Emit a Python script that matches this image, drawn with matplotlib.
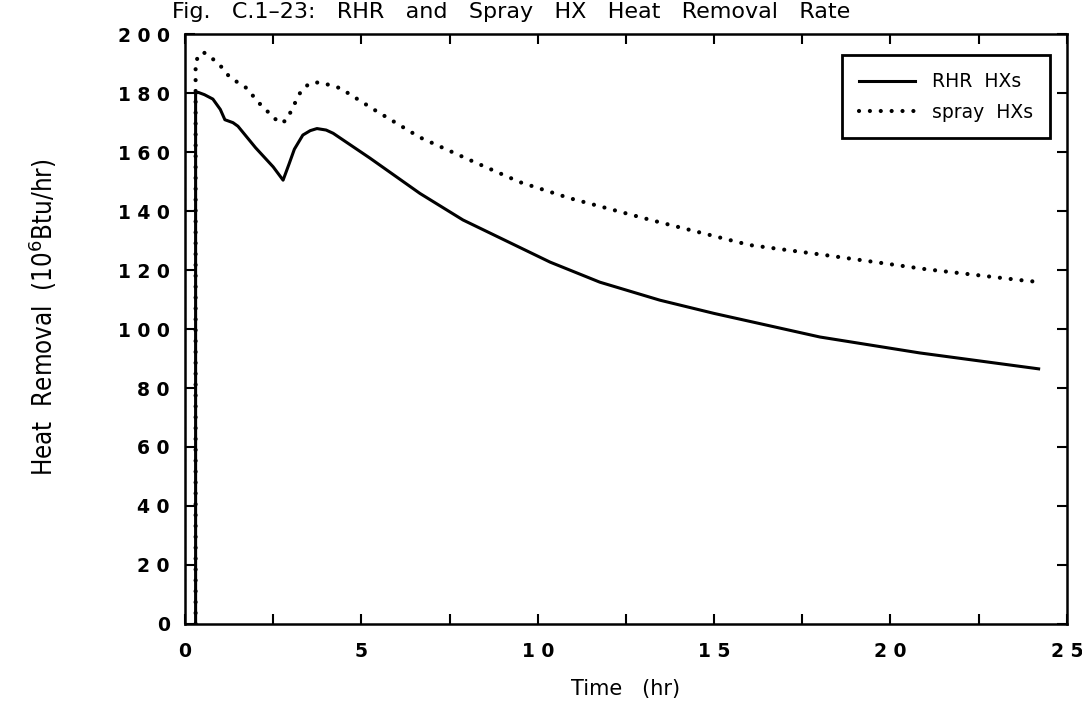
import matplotlib
matplotlib.use("Agg")
import matplotlib.pyplot as plt
from matplotlib.ticker import MultipleLocator, FuncFormatter

# RHR heat exchangers (10^6 Btu/hr vs hr)
rhr_t = [0.3, 0.3, 0.37, 0.55, 0.79, 1.0, 1.13, 1.36, 1.5, 2.0, 2.5, 2.78,
         2.95, 3.1, 3.34, 3.55, 3.74, 4.0, 4.2, 5.24, 6.66, 7.88, 10.35,
         11.76, 13.46, 15.0, 18.0, 20.83, 24.2]
rhr_q = [0, 180, 180.3, 179.5, 178, 174.5, 171, 170, 168.8, 161.5, 155, 150.5,
         156, 161, 165.8, 167.3, 168, 167.5, 166.4, 158, 146, 137, 122.7,
         115.9, 109.8, 105.3, 97.3, 91.9, 86.5]

# spray heat exchangers
spray_t = [0.3, 0.3, 0.51, 0.75, 0.99, 1.27, 1.75, 2.07, 2.5, 2.69, 2.88,
           3.06, 3.3, 3.54, 3.83, 4.4, 5.39, 6.66, 8.08, 9.5, 10.9, 13.2,
           16.0, 18.2, 21.0, 23.9, 24.2]
spray_q = [0, 191, 194, 192, 189.5, 185.4, 181.7, 177, 171.9, 169.8, 170.8,
           175.3, 181, 183.4, 183.7, 181.7, 174.2, 165, 157.3, 149.8, 144.4,
           137, 128.5, 125, 120.3, 116.3, 116]

fig = plt.figure(figsize=(10.82, 7.13), dpi=100)
ax = fig.add_axes([0.171, 0.125, 0.815, 0.827])

ax.plot(rhr_t, rhr_q, color="black", lw=2.2, label="RHR  HXs")
ax.plot(spray_t, spray_q, color="black", lw=3.0, dashes=(0.01, 2.6),
        dash_capstyle="round", label="spray  HXs")

ax.set_xlim(0, 25)
ax.set_ylim(0, 200)
ax.xaxis.set_major_locator(MultipleLocator(5))
ax.xaxis.set_minor_locator(MultipleLocator(2.5))
ax.yaxis.set_major_locator(MultipleLocator(20))

# the original plotter spreads the digits out
spaced = FuncFormatter(lambda v, p: " ".join(str(int(round(v)))))
ax.xaxis.set_major_formatter(spaced)
ax.yaxis.set_major_formatter(spaced)

ax.tick_params(which="both", direction="in", top=True, right=True,
               length=7, width=1.5, labelsize=13.5)
ax.tick_params(axis="x", pad=13)
ax.tick_params(axis="y", pad=11)
for lab in ax.get_xticklabels() + ax.get_yticklabels():
    lab.set_fontweight("semibold")
for s in ax.spines.values():
    s.set_linewidth(1.8)

ax.set_xlabel("Time   (hr)", fontsize=15, labelpad=13)
ax.set_ylabel("Heat  Removal  (10$^6$Btu/hr)", fontsize=18.5,
              fontstretch="condensed")
ax.yaxis.set_label_coords(-0.143, 0.52)

fig.text(0.159, 0.983,
         "Fig.   C.1\u201323:   RHR   and   Spray   HX   Heat   Removal   Rate",
         fontsize=16, ha="left", va="center")

leg = ax.legend(loc="upper right", bbox_to_anchor=(0.981, 0.964),
                borderaxespad=0, fancybox=False, edgecolor="black",
                fontsize=13.5, handlelength=3.0, handletextpad=0.9,
                borderpad=0.9, labelspacing=0.6, framealpha=1)
leg.get_frame().set_linewidth(2)

fig.savefig("out.png", dpi=100)
